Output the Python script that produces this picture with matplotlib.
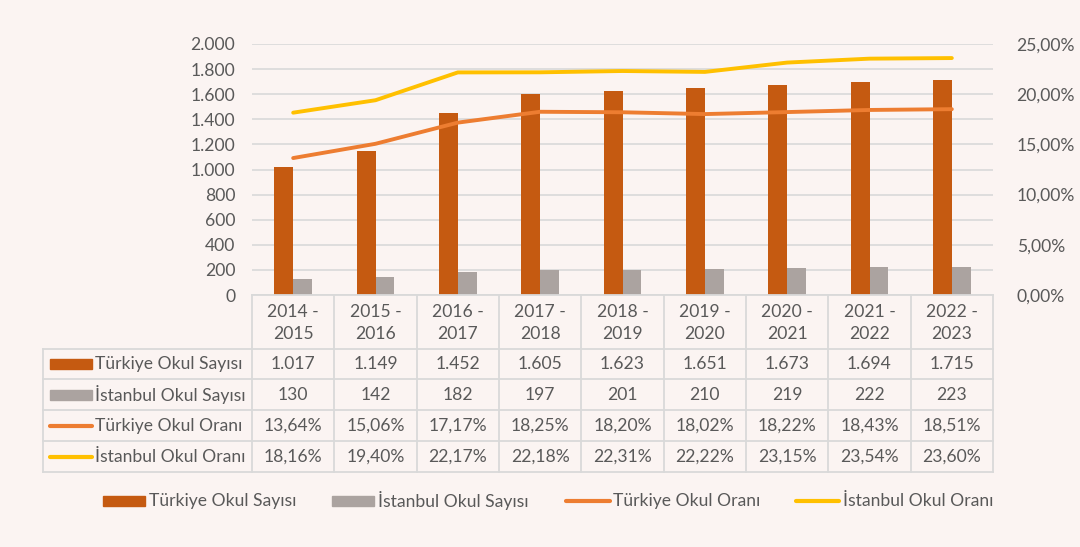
import matplotlib
matplotlib.use('Agg')
import matplotlib.pyplot as plt
from matplotlib.lines import Line2D
from matplotlib.patches import Rectangle

years = ['2014 -\n2015', '2015 -\n2016', '2016 -\n2017', '2017 -\n2018', '2018 -\n2019',
         '2019 -\n2020', '2020 -\n2021', '2021 -\n2022', '2022 -\n2023']
tr_count = [1017, 1149, 1452, 1605, 1623, 1651, 1673, 1694, 1715]
ist_count = [130, 142, 182, 197, 201, 210, 219, 222, 223]
tr_rate = [13.64, 15.06, 17.17, 18.25, 18.20, 18.02, 18.22, 18.43, 18.51]
ist_rate = [18.16, 19.40, 22.17, 22.18, 22.31, 22.22, 23.15, 23.54, 23.60]
names = ['Türkiye Okul Sayısı', 'İstanbul Okul Sayısı', 'Türkiye Okul Oranı', 'İstanbul Okul Oranı']

c_bar1 = '#C55A11'
c_bar2 = '#ABA3A0'
c_line1 = '#ED7D31'
c_line2 = '#FFC000'
c_text = '#595959'
c_grid = '#D9D9D9'
bg = '#FBF4F2'
fs = 12.6

plt.rcParams['font.family'] = ['Lato', 'DejaVu Sans']
W, H = 1080, 547
fig = plt.figure(figsize=(W / 100, H / 100), dpi=100, facecolor=bg)


def fx(x):
    return x / W


def fy(y):
    return 1 - y / H


x0, x1, ytop, ybot = 252, 993, 44, 295
ax = fig.add_axes([fx(x0), fy(ybot), fx(x1) - fx(x0), fy(ytop) - fy(ybot)])
ax.set_facecolor('none')
n = len(years)
idx = list(range(n))
bw = 0.23
ax.bar([i - bw / 2 for i in idx], tr_count, bw, color=c_bar1, zorder=3)
ax.bar([i + bw / 2 for i in idx], ist_count, bw, color=c_bar2, zorder=3)
ax.set_xlim(-0.5, n - 0.5)
ax.set_ylim(0, 2000)
ax.set_yticks(range(0, 2001, 200))
ax.set_yticklabels([f'{v:,}'.replace(',', '.') for v in range(0, 2001, 200)])
ax.grid(axis='y', color=c_grid, lw=1.2, zorder=0)
ax.set_xticks([])
for s in ax.spines.values():
    s.set_visible(False)
ax.tick_params(axis='y', length=0, labelsize=fs, labelcolor=c_text, pad=12)

ax2 = ax.twinx()
ax2.plot(idx, tr_rate, color=c_line1, lw=2.8, solid_capstyle='round', zorder=4)
ax2.plot(idx, ist_rate, color=c_line2, lw=2.8, solid_capstyle='round', zorder=4)
ax2.set_ylim(0, 25)
ax2.set_yticks(range(0, 26, 5))
ax2.set_yticklabels([f'{v:.2f}%'.replace('.', ',') for v in range(0, 26, 5)])
for s in ax2.spines.values():
    s.set_visible(False)
ax2.tick_params(axis='y', length=0, labelsize=fs, labelcolor=c_text, pad=17)

# data table
lw = 1.3
cw = (x1 - x0) / n
rows = [349, 379, 410, 441, 472]
lx = 43


def hline(xa, xb, y):
    fig.add_artist(Line2D([fx(xa), fx(xb)], [fy(y), fy(y)], color=c_grid, lw=lw))


def vline(x, ya, yb):
    fig.add_artist(Line2D([fx(x), fx(x)], [fy(ya), fy(yb)], color=c_grid, lw=lw))


hline(x0, x1, ybot)
for y in rows:
    hline(lx, x1, y)
for i in range(n + 1):
    vline(x0 + i * cw, ybot, rows[-1])
vline(lx, rows[0], rows[-1])

for i, yr in enumerate(years):
    fig.text(fx(x0 + (i + 0.5) * cw), fy((ybot + rows[0]) / 2 + 1), yr, ha='center', va='center',
             fontsize=fs, color=c_text, linespacing=1.4)

fmt_count = lambda v: f'{v:,}'.replace(',', '.')
fmt_rate = lambda v: f'{v:.2f}%'.replace('.', ',')
table_vals = [[fmt_count(v) for v in tr_count], [fmt_count(v) for v in ist_count],
              [fmt_rate(v) for v in tr_rate], [fmt_rate(v) for v in ist_rate]]
for r in range(4):
    yc = (rows[r] + rows[r + 1]) / 2
    for i in range(n):
        fig.text(fx(x0 + (i + 0.5) * cw), fy(yc), table_vals[r][i], ha='center', va='center',
                 fontsize=fs, color=c_text)
    fig.text(fx(95), fy(yc), names[r], ha='left', va='center', fontsize=fs, color=c_text)


def key(r, xa, xb, y):
    if r < 2:
        col = c_bar1 if r == 0 else c_bar2
        fig.add_artist(Rectangle((fx(xa), fy(y + 5)), fx(xb) - fx(xa), fy(y - 5) - fy(y + 5),
                                 color=col, transform=fig.transFigure))
    else:
        col = c_line1 if r == 2 else c_line2
        fig.add_artist(Line2D([fx(xa), fx(xb)], [fy(y), fy(y)], color=col, lw=3,
                              solid_capstyle='round'))


for r in range(4):
    yc = (rows[r] + rows[r + 1]) / 2
    key(r, 50, 92, yc)

# legend
leg_keys = [(103, 145, 149), (332, 374, 378), (566, 610, 613), (796, 839, 843)]
for r, (xa, xb, xt) in enumerate(leg_keys):
    key(r, xa, xb, 501)
    fig.text(fx(xt), fy(501), names[r], ha='left', va='center', fontsize=fs, color=c_text)

fig.savefig('out.png', dpi=100, facecolor=bg)
